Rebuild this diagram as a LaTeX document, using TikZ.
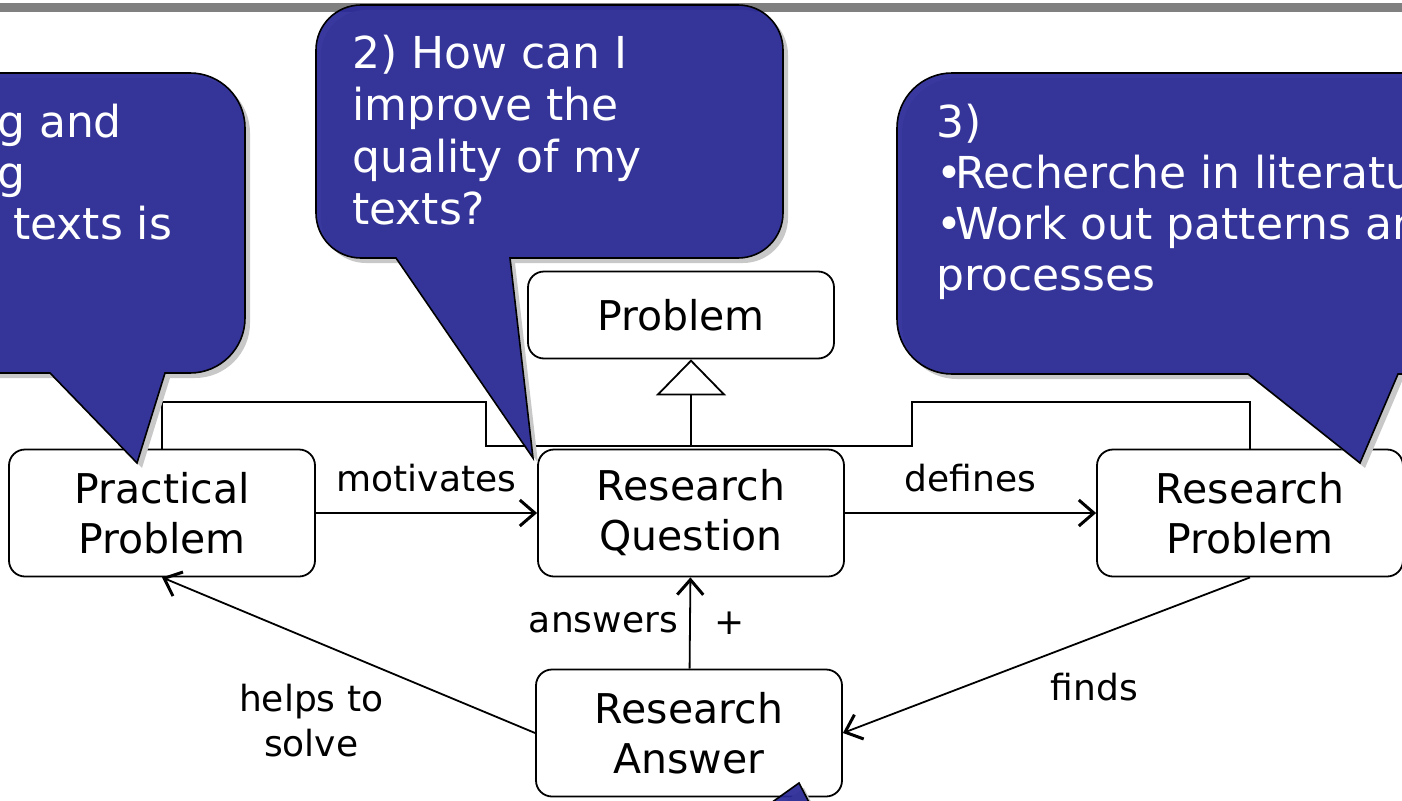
\documentclass[tikz,border=0pt]{standalone}
\usepackage{fontspec}
\setmainfont{DejaVu Sans}
\usetikzlibrary{arrows.meta}

\definecolor{balloonblue}{RGB}{40,40,150}
\definecolor{bargray}{RGB}{128,128,128}
\definecolor{shadowgray}{RGB}{200,200,200}

\begin{document}
\begin{tikzpicture}[x=1pt, y=-1pt,
    concept/.style ={rectangle, rounded corners=16pt, draw, line width=1.8pt, fill=white,
      minimum width=306pt, minimum height=127pt, inner sep=0pt, align=center,
      font=\fontsize{41}{50}\selectfont},
    relation/.style ={line width=1.8pt, -{Straight Barb[length=15pt, width=26pt, line width=3pt]}},
    role/.style ={font=\fontsize{36}{45}\selectfont},
    balloon/.style ={preaction={fill=shadowgray, transform canvas={shift={(5pt,-5pt)}}},
      fill=balloonblue, fill opacity=0.92, draw=black, line width=1.6pt},
    balloontext/.style ={anchor=base west, inner sep=0pt, text=white,
      font=\fontsize{44}{51}\selectfont}]

   \path[use as bounding box] (0,0) rectangle (1402,800);
   \clip (0,0) rectangle (1402,800);
   \fill[white] (0,0) rectangle (1402,800);
   \fill[bargray] (0,3) rectangle (1402,12);

   \node[concept, minimum height=87pt] (problem) at (681,315) {Problem};
   \node[concept] (practical)  at (162,513) {Practical\\Problem};
   \node[concept] (question)   at (691,513) {Research\\Question};
   \node[concept] (resproblem) at (1250,513) {Research\\Problem};
   \node[concept] (answer)     at (689,733) {Research\\Answer};

   \coordinate (join) at ([yshift=3pt]question.north);
   \coordinate (stepleft) at (486,402);
   \coordinate (stepright) at (912,402);

   \draw[line width=1.8pt] (practical.north) |- (stepleft) |- (join);
   \draw[line width=1.8pt] (resproblem.north) |- (stepright) |- (join);
   \draw[line width=1.8pt, -{Triangle[open, length=36pt, width=70pt]}] (join) to (join |- problem.south);

   \draw[relation] (practical) to node[role, above=17pt] (motivates) {motivates} (question);
   \draw[relation] (question) to node[role, above=17pt] (defines) {defines} (resproblem);
   \draw[relation] (answer) to node[role, left=8pt] (answers) {answers}
      node[role, right=20pt] (plus) {+} (question);
   \draw[relation] (resproblem.south) to node[role, below right, yshift=-14pt] (finds) {finds} (answer.east);
   \draw[relation] (answer.west) to node[role, pos=0.6, below=40pt, align=center] (helps) {helps to\\solve} (practical.south);

   \draw[balloon] (137,463) -- (165,373) [rounded corners=55pt] -- (245,373) -- (245,73)
      -- (-80,73) -- (-80,373) [sharp corners] -- (50,373) -- cycle;
   \draw[balloon] (533,458) -- (510,258) [rounded corners=45pt] -- (783,258) -- (783,5)
      -- (316,5) -- (316,258) [sharp corners] -- (396,258) -- cycle;
   \draw[balloon] (1360,463) -- (1398,374) [rounded corners=55pt] -- (1480,374) -- (1480,73)
      -- (897,73) -- (897,374) [sharp corners] -- (1248,374) -- cycle;
   \draw[balloon] (799,783) -- (812,808) -- (764,808) -- cycle;

   \node[balloontext] (onea) at (-3,137) {g and};
   \node[balloontext] (oneb) at (-3,188) {g};
   \node[balloontext] (onec) at (13,239) {texts is};

   \node[balloontext] (twoa) at (352,68) {2) How can I};
   \node[balloontext] (twob) at (352,120) {improve the};
   \node[balloontext] (twoc) at (352,172) {quality of my};
   \node[balloontext] (twod) at (352,224) {texts?};

   \node[balloontext] (threea) at (936,137) {3)};
   \node[balloontext] (threeb) at (936,188) {•\kern-7pt Recherche in literatur};
   \node[balloontext] (threec) at (936,239) {•\kern-7pt Work out patterns an};
   \node[balloontext] (threed) at (936,290) {processes};

 \end{tikzpicture}
\end{document}
